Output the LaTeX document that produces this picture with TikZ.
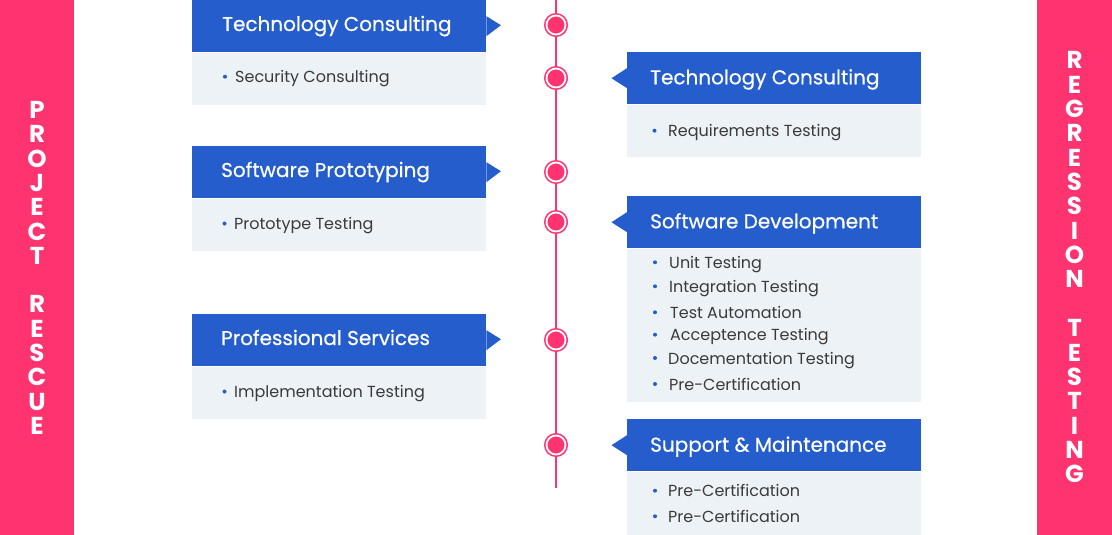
\documentclass[tikz,border=0pt]{standalone}
\usepackage{fontspec}
\setmainfont{Poppins}
\newfontfamily\titlefont[FakeBold=0.5]{Poppins}
\usetikzlibrary{calc}
\definecolor{brandpink}{HTML}{FF3370}
\definecolor{brandblue}{HTML}{255ECC}
\definecolor{panelbg}{HTML}{EDF2F7}
\definecolor{itemtext}{HTML}{3A3A3A}

% bullet list entry: name, text x, baseline y, bullet gap, text
\newcommand\bulletitem[5]{%
  \node[item] (#1) at (#2,#3) {#5};
  \node[bulletdot] (#1-dot) at ($(#1.base west)+(-#4,-6)$) {};
}

\begin{document}
\begin{tikzpicture}[x=1pt,y=-1pt,
  sidebar/.style={fill=brandpink, draw=none},
  sideletter/.style={text=white, font=\fontsize{24.5}{24.5}\selectfont\bfseries, inner sep=0pt, anchor=base},
  header/.style={fill=brandblue, draw=none, minimum width=294pt, minimum height=52pt, inner sep=0pt, anchor=north west},
  panel/.style={fill=panelbg, draw=none, minimum width=294pt, inner sep=0pt, anchor=north west},
  title/.style={text=white, font=\titlefont\fontsize{20}{20}\selectfont, inner sep=0pt, anchor=base west},
  item/.style={text=itemtext, font=\fontsize{16}{16}\selectfont, inner sep=0pt, anchor=base west},
  bulletdot/.style={circle, fill=brandblue, minimum size=4pt, inner sep=0pt},
  pointer/.style={fill=brandblue, draw=none},
  ring/.style={circle, fill=brandpink, draw=white, line width=1.8pt, minimum size=19pt, inner sep=0pt,
    preaction={draw=brandpink, line width=5pt}},
  timeline/.style={draw=brandpink, line width=1.5pt},
]
\useasboundingbox (0,0) rectangle (1112,535);

% side bars
\fill[sidebar] (0,0) rectangle (74,535);
\fill[sidebar] (1037,0) rectangle (1112,535);
\foreach \ch [count=\i from 0] in {P,R,O,J,E,C,T,{},R,E,S,C,U,E}
  \node[sideletter] (left\i) at (37,118.5+24.3*\i) {\ch};
\foreach \ch [count=\i from 0] in {R,E,G,R,E,S,S,I,O,N,{},T,E,S,T,I,N,G}
  \node[sideletter] (right\i) at (1074.5,68.8+24.35*\i) {\ch};

% timeline
\coordinate (tltop) at (556,0);
\coordinate (tlbot) at (556,488);
\draw[timeline] (tltop) -- (tlbot);
\foreach \y [count=\i] in {25,78,172,222,340,445}
  \node[ring] (dot\i) at (556,\y) {};

% left column
\node[header] (L1) at (192,0) {};
\node[panel, minimum height=52pt] (L1p) at (L1.south west) {};
\node[header] (L2) at (192,146) {};
\node[panel, minimum height=52pt] (L2p) at (L2.south west) {};
\node[header] (L3) at (192,314) {};
\node[panel, minimum height=52pt] (L3p) at (L3.south west) {};
\foreach \h in {L1,L2,L3}
  \fill[pointer] ($(\h.east)+(0,-10)$) -- ($(\h.east)+(14.5,-1)$) -- ($(\h.east)+(0,10)$) -- cycle;

\node[title] (L1t) at ($(L1.north west)+(30,31)$) {Technology Consulting};
\node[title] (L2t) at ($(L2.north west)+(29,31)$) {Software Prototyping};
\node[title] (L3t) at ($(L3.north west)+(29,31)$) {Professional Services};

\bulletitem{L1a}{235}{82.7}{10}{Security Consulting}
\bulletitem{L2a}{234}{229.5}{9.5}{Prototype Testing}
\bulletitem{L3a}{234}{397.5}{9.5}{Implementation Testing}

% right column
\node[header] (R1) at (627,52) {};
\node[panel, minimum height=52pt] (R1p) at (R1.south west) {};
\node[header] (R2) at (627,196) {};
\node[panel, minimum height=153pt] (R2p) at (R2.south west) {};
\node[header] (R3) at (627,419) {};
\node[panel, minimum height=64pt] (R3p) at (R3.south west) {};
\foreach \h in {R1,R2,R3}
  \fill[pointer] ($(\h.west)+(0,-10)$) -- ($(\h.west)+(-15.5,0)$) -- ($(\h.west)+(0,10)$) -- cycle;

\node[title] (R1t) at ($(R1.north west)+(23,32.3)$) {Technology Consulting};
\node[title] (R2t) at ($(R2.north west)+(23,32.3)$) {Software Development};
\node[title] (R3t) at ($(R3.north west)+(23,32.7)$) {Support \& Maintenance};

\bulletitem{R1a}{668}{136.7}{13.5}{Requirements Testing}
\bulletitem{R2a}{669}{268.3}{14}{Unit Testing}
\bulletitem{R2b}{669}{292.3}{14}{Integration Testing}
\bulletitem{R2c}{670}{318.3}{15}{Test Automation}
\bulletitem{R2d}{670}{340.7}{15}{Acceptence Testing}
\bulletitem{R2e}{668}{364}{13}{Docementation Testing}
\bulletitem{R2f}{669}{390}{14}{Pre-Certification}
\bulletitem{R3a}{668}{496.7}{13}{Pre-Certification}
\bulletitem{R3b}{668}{522.3}{13}{Pre-Certification}
\end{tikzpicture}
\end{document}
